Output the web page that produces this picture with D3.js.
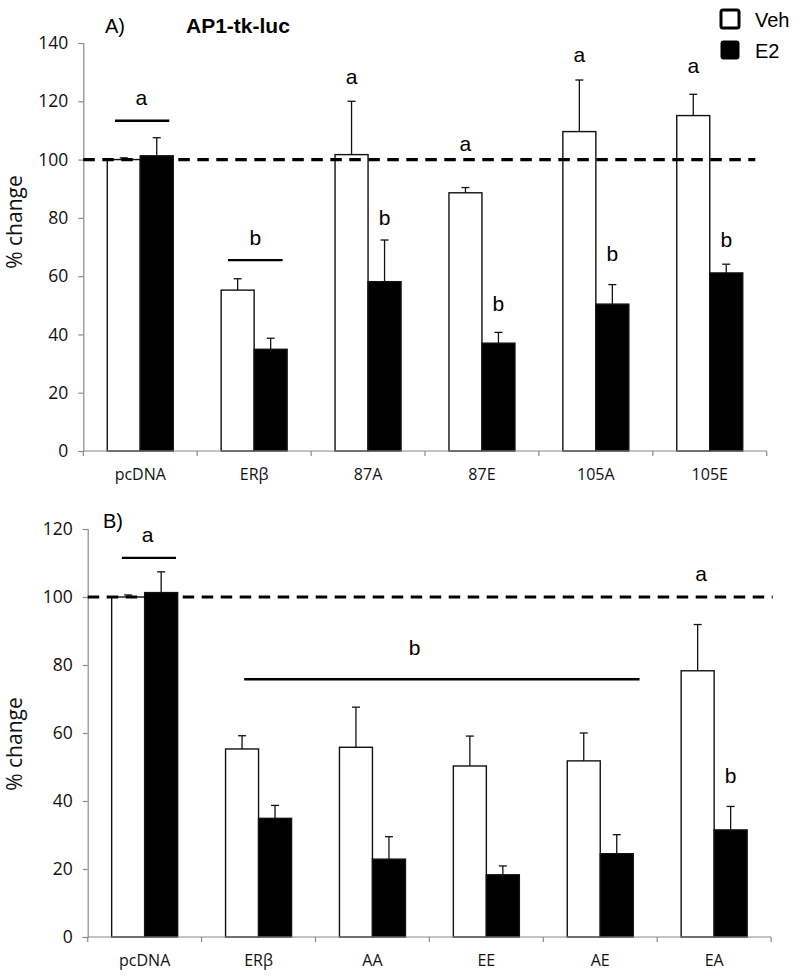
<!DOCTYPE html>
<html>
<head>
<meta charset="utf-8">
<script src="https://cdn.jsdelivr.net/npm/d3@7"></script>
<style>
  html, body { margin: 0; padding: 0; background: #fff; }
  svg { display: block; }
</style>
</head>
<body>
<svg id="chart" width="800" height="978"></svg>
<script>
// ---------------- DATA ----------------
const series = ["Veh", "E2"];

// Panel A
const categoriesA = ["pcDNA", "ERβ", "87A", "87E", "105A", "105E"];
const vehA    = [100.0, 55.2, 101.7, 88.6, 109.6, 115.1];
const vehErrA = [0.6, 3.9, 18.3, 1.8, 17.7, 7.3];
const e2A     = [101.3, 34.9, 58.1, 37.0, 50.4, 61.1];
const e2ErrA  = [6.2, 3.8, 14.3, 3.7, 6.7, 3.0];
const yTicksA = [0, 20, 40, 60, 80, 100, 120, 140];

// Panel B
const categoriesB = ["pcDNA", "ERβ", "AA", "EE", "AE", "EA"];
const vehB    = [100.0, 55.3, 55.8, 50.3, 51.8, 78.3];
const vehErrB = [0.6, 3.9, 11.8, 8.8, 8.2, 13.6];
const e2B     = [101.3, 34.9, 22.9, 18.3, 24.5, 31.5];
const e2ErrB  = [6.1, 3.8, 6.6, 2.6, 5.6, 6.9];
const yTicksB = [0, 20, 40, 60, 80, 100, 120];

// significance letters: [letter, category, series ("Veh"/"E2"/null = group), offset in band units, value]
const lettersA = [
  ["a", "pcDNA", null, 0.01, 118.7],
  ["b", "ERβ", null, 0.01, 70.7],
  ["a", "87A", "Veh", 0, 125.9],
  ["b", "87A", "E2", 0, 77.6],
  ["a", "87E", "Veh", 0, 103.0],
  ["b", "87E", "E2", 0, 48.1],
  ["a", "105A", "Veh", 0, 133.4],
  ["b", "105A", "E2", 0, 65.3],
  ["a", "105E", "Veh", 0, 129.8],
  ["b", "105E", "E2", 0, 70.0]
];
// bracket lines: [from category, from offset, to category, to offset, value]
const bracketsA = [
  ["pcDNA", -0.222, "pcDNA", 0.255, 113.3],
  ["ERβ", -0.23, "ERβ", 0.25, 65.5]
];
const lettersB = [
  ["a", "pcDNA", null, 0.026, 116.3],
  ["b", "AA", null, 0.37, 82.9],
  ["a", "EA", "Veh", 0.03, 104.8],
  ["b", "EA", "E2", 0, 45.2]
];
const bracketsB = [
  ["pcDNA", -0.2, "pcDNA", 0.275, 111.5],
  ["ERβ", -0.126, "AE", 0.345, 75.8]
];

// ---------------- DRAW ----------------
const svg = d3.select("#chart");
const tickFont = "'Open Sans', 'DejaVu Sans', sans-serif";
const letterFont = "'Liberation Sans', Arial, sans-serif";
const axisColor = "#8a8a8a";

function drawPanel(opt) {
  const g = svg.append("g").attr("transform", `translate(${opt.left},${opt.top})`);
  const W = opt.width, H = opt.height;

  const x = d3.scaleBand().domain(opt.categories).range([0, W]).paddingInner(0).paddingOuter(0);
  const xs = d3.scaleBand().domain(series).range([0, x.bandwidth()]).paddingInner(0).paddingOuter(0.726);
  const y = d3.scaleLinear().domain([0, opt.yMax]).range([H, 0]);

  const rows = opt.categories.map((c, i) => ({
    cat: c,
    vals: [
      { s: "Veh", v: opt.veh[i], e: opt.vehErr[i] },
      { s: "E2", v: opt.e2[i], e: opt.e2Err[i] }
    ]
  }));

  // Y axis
  const yAxis = d3.axisLeft(y).tickValues(opt.yTicks).tickSize(5).tickPadding(10).tickFormat(d3.format("d"));
  const ya = g.append("g").call(yAxis);
  ya.select(".domain").attr("stroke", axisColor).attr("stroke-width", 1.2);
  ya.selectAll(".tick line").attr("stroke", axisColor).attr("stroke-width", 1.2);
  ya.selectAll(".tick text").attr("font-family", tickFont).attr("font-size", 17.5).attr("fill", "#111");

  // bars
  const grp = g.selectAll("g.grp").data(rows).join("g")
    .attr("class", "grp")
    .attr("transform", d => `translate(${x(d.cat)},0)`);

  grp.selectAll("rect").data(d => d.vals).join("rect")
    .attr("x", d => xs(d.s))
    .attr("width", xs.bandwidth())
    .attr("y", d => y(d.v))
    .attr("height", d => H - y(d.v))
    .attr("fill", d => d.s === "Veh" ? "#fff" : "#000")
    .attr("stroke", "#111")
    .attr("stroke-width", 1.4);

  // error bars (upward only)
  const eb = grp.selectAll("g.err").data(d => d.vals).join("g").attr("class", "err");
  eb.append("line")
    .attr("x1", d => xs(d.s) + xs.bandwidth() / 2)
    .attr("x2", d => xs(d.s) + xs.bandwidth() / 2)
    .attr("y1", d => y(d.v))
    .attr("y2", d => y(d.v + d.e))
    .attr("stroke", "#111").attr("stroke-width", 1.3);
  eb.append("line")
    .attr("x1", d => xs(d.s) + xs.bandwidth() / 2 - 4)
    .attr("x2", d => xs(d.s) + xs.bandwidth() / 2 + 4)
    .attr("y1", d => y(d.v + d.e))
    .attr("y2", d => y(d.v + d.e))
    .attr("stroke", "#111").attr("stroke-width", 1.3);

  // X axis baseline + boundary ticks
  g.append("line").attr("x1", 0).attr("x2", W).attr("y1", H).attr("y2", H)
    .attr("stroke", axisColor).attr("stroke-width", 1.2);
  const bounds = opt.categories.map(c => x(c)).concat([W]);
  g.selectAll("line.xt").data(bounds).join("line").attr("class", "xt")
    .attr("x1", d => d).attr("x2", d => d).attr("y1", H).attr("y2", H + 5)
    .attr("stroke", axisColor).attr("stroke-width", 1.2);

  // category labels
  const xAxis = d3.axisBottom(x).tickSize(0).tickPadding(18);
  const xa = g.append("g").attr("transform", `translate(0,${H})`).call(xAxis);
  xa.select(".domain").remove();
  xa.selectAll(".tick text").attr("font-family", tickFont).attr("font-size", 16).attr("fill", "#111");

  // dashed 100% line
  g.append("line")
    .attr("x1", 0).attr("x2", opt.dashEnd)
    .attr("y1", y(100)).attr("y2", y(100))
    .attr("stroke", "#000").attr("stroke-width", 3.2)
    .attr("stroke-dasharray", "11.5,7.5");

  // brackets
  g.selectAll("line.br").data(opt.brackets).join("line").attr("class", "br")
    .attr("x1", d => x(d[0]) + x.bandwidth() * (0.5 + d[1]))
    .attr("x2", d => x(d[2]) + x.bandwidth() * (0.5 + d[3]))
    .attr("y1", d => y(d[4])).attr("y2", d => y(d[4]))
    .attr("stroke", "#000").attr("stroke-width", 2.4);

  // letters
  g.selectAll("text.sig").data(opt.letters).join("text").attr("class", "sig")
    .attr("x", d => {
      const base = d[2] ? x(d[1]) + xs(d[2]) + xs.bandwidth() / 2 : x(d[1]) + x.bandwidth() / 2;
      return base + d[3] * x.bandwidth();
    })
    .attr("y", d => y(d[4]))
    .attr("text-anchor", "middle")
    .attr("font-family", letterFont).attr("font-size", 21).attr("fill", "#000")
    .text(d => d[0]);

  // y-axis title
  svg.append("text")
    .attr("transform", `translate(${opt.yLabelX},${opt.yLabelY}) rotate(-90)`)
    .attr("text-anchor", "middle")
    .attr("font-family", tickFont).attr("font-size", 21).attr("fill", "#111")
    .text("% change");

  // panel tag
  svg.append("text").attr("x", opt.tagX).attr("y", opt.tagY)
    .attr("font-family", letterFont).attr("font-size", 20).attr("fill", "#000")
    .text(opt.tag);

  return { g, x, y };
}

drawPanel({
  left: 83.3, top: 43, width: 683.4, height: 408, yMax: 140,
  categories: categoriesA, veh: vehA, vehErr: vehErrA, e2: e2A, e2Err: e2ErrA,
  yTicks: yTicksA, letters: lettersA, brackets: bracketsA,
  dashEnd: 672, yLabelX: 22, yLabelY: 222, tag: "A)", tagX: 105, tagY: 33
});

drawPanel({
  left: 87.7, top: 529, width: 683.4, height: 408, yMax: 120,
  categories: categoriesB, veh: vehB, vehErr: vehErrB, e2: e2B, e2Err: e2ErrB,
  yTicks: yTicksB, letters: lettersB, brackets: bracketsB,
  dashEnd: 685, yLabelX: 22, yLabelY: 744, tag: "B)", tagX: 103, tagY: 528
});

// Title (panel A)
svg.append("text").attr("x", 186).attr("y", 33)
  .attr("font-family", letterFont).attr("font-size", 21).attr("font-weight", "bold").attr("fill", "#000")
  .text("AP1-tk-luc");

// Legend
const legend = svg.append("g").attr("class", "legend");
const legRows = legend.selectAll("g").data(series).join("g")
  .attr("transform", (d, i) => `translate(721,${10 + i * 31})`);
legRows.append("rect")
  .attr("width", 18).attr("height", 18).attr("rx", 2)
  .attr("fill", d => d === "Veh" ? "#fff" : "#000")
  .attr("stroke", "#000").attr("stroke-width", d => d === "Veh" ? 3 : 1);
legRows.append("text")
  .attr("x", 34).attr("y", 16.5)
  .attr("font-family", letterFont).attr("font-size", 20).attr("fill", "#000")
  .text(d => d);
</script>
</body>
</html>
